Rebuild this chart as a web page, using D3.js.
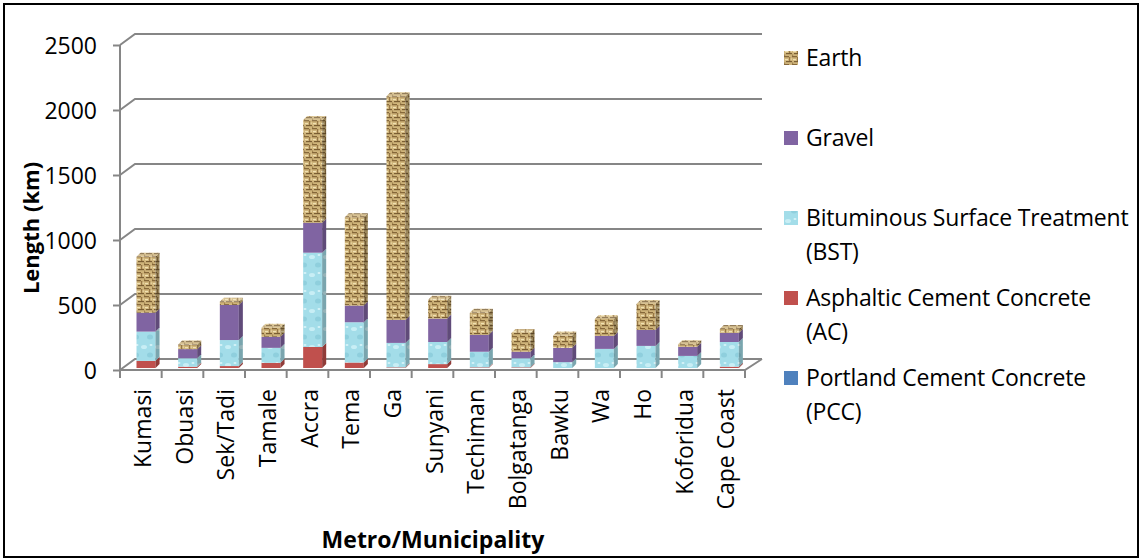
<!DOCTYPE html>
<html>
<head>
<meta charset="utf-8">
<script src="https://cdn.jsdelivr.net/npm/d3@7"></script>
<style>
  body { margin: 0; background: #fff; }
  svg text { font-family: "Open Sans", "Noto Sans", sans-serif; fill: #000; }
</style>
</head>
<body>
<div id="chart"></div>
<script>
// road lengths (km) per metro/municipality
const categories = ["Kumasi", "Obuasi", "Sek/Tadi", "Tamale", "Accra", "Tema", "Ga", "Sunyani",
    "Techiman", "Bolgatanga", "Bawku", "Wa", "Ho", "Koforidua", "Cape Coast"];
const pcc = [0, 0, 0, 0, 0, 0, 0, 0, 0, 0, 0, 0, 0, 0, 0];
const ac = [55, 10, 15, 40, 162, 42, 5, 30, 5, 5, 0, 0, 0, 0, 10];
const bst = [225, 65, 200, 115, 725, 310, 188, 170, 120, 70, 45, 147, 170, 93, 190];
const gravel = [145, 70, 270, 85, 230, 128, 177, 180, 130, 50, 110, 100, 123, 70, 70];
const earth = [430, 35, 25, 70, 790, 680, 1720, 145, 170, 145, 95, 130, 200, 20, 30];
const yTicks = [0, 500, 1000, 1500, 2000, 2500];

const seriesNames = ["PCC", "AC", "BST", "Gravel", "Earth"];
const legendItems = [
    {key: "Earth", lines: ["Earth"]},
    {key: "Gravel", lines: ["Gravel"]},
    {key: "BST", lines: ["Bituminous Surface Treatment", "(BST)"]},
    {key: "AC", lines: ["Asphaltic Cement Concrete", "(AC)"]},
    {key: "PCC", lines: ["Portland Cement Concrete", "(PCC)"]}
];

const W = 1141, H = 560;
const depth = {dx: 15, dy: -11};   // back wall offset
const bar = {off: 16.5, w: 19, dx: 4, dy: -4};

const table = categories.map((c, i) => ({
    name: c, PCC: pcc[i], AC: ac[i], BST: bst[i], Gravel: gravel[i], Earth: earth[i]
}));
const stacked = d3.stack().keys(seriesNames)(table);

const svg = d3.select("#chart").append("svg")
    .attr("width", W).attr("height", H);

// textures
const defs = svg.append("defs");
const earthPat = defs.append("pattern").attr("id", "earth")
    .attr("patternUnits", "userSpaceOnUse").attr("width", 8).attr("height", 8);
earthPat.append("rect").attr("width", 8).attr("height", 8).attr("fill", "#cfb47a");
earthPat.append("rect").attr("x", 0).attr("y", 0).attr("width", 5).attr("height", 1.3).attr("fill", "#86683a");
earthPat.append("rect").attr("x", 5).attr("y", 1).attr("width", 1.3).attr("height", 4).attr("fill", "#967645");
earthPat.append("rect").attr("x", 1).attr("y", 3).attr("width", 3).attr("height", 1.2).attr("fill", "#f0e0b2");
earthPat.append("rect").attr("x", 2).attr("y", 5).attr("width", 6).attr("height", 1.2).attr("fill", "#7a5e33");
earthPat.append("rect").attr("x", 0).attr("y", 6.5).attr("width", 1.2).attr("height", 1.5).attr("fill", "#a08350");
earthPat.append("rect").attr("x", 6.5).attr("y", 2.5).attr("width", 1.5).attr("height", 1.2).attr("fill", "#ecdaa8");

const bstPat = defs.append("pattern").attr("id", "bst")
    .attr("patternUnits", "userSpaceOnUse").attr("width", 14).attr("height", 18);
bstPat.append("rect").attr("width", 14).attr("height", 18).attr("fill", "#a3dde9");
bstPat.append("ellipse").attr("cx", 4).attr("cy", 5).attr("rx", 3).attr("ry", 2).attr("fill", "#c8eef5");
bstPat.append("ellipse").attr("cx", 10).attr("cy", 13).attr("rx", 3).attr("ry", 2.5).attr("fill", "#8fcfdd");
bstPat.append("ellipse").attr("cx", 11).attr("cy", 3).attr("rx", 1.5).attr("ry", 1).attr("fill", "#d6f3f8");

const fills = {Earth: "url(#earth)", Gravel: "#8064a2", BST: "url(#bst)", AC: "#c0504d", PCC: "#4f81bd"};

const x = d3.scaleBand().domain(categories).range([120, 745]).paddingInner(0).paddingOuter(0);
const y = d3.scaleLinear().domain([0, 2500]).range([370, 45]);
const yBar = d3.scaleLinear().domain([0, 2500]).range([368, 43]);

const gridColor = "#868686";

// gridlines on the wall
svg.append("g").selectAll("path").data(yTicks).join("path")
    .attr("d", t => `M120,${y(t)} L${120 + depth.dx},${y(t) + depth.dy} L762,${y(t) + depth.dy}`)
    .attr("fill", "none").attr("stroke", gridColor).attr("stroke-width", 2);

// floor front + right edge
svg.append("path")
    .attr("d", `M120,${y(0)} L745,${y(0)} L762,${y(0) + depth.dy}`)
    .attr("fill", "none").attr("stroke", gridColor).attr("stroke-width", 2);

// y axis
const yAxis = d3.axisLeft(y).tickValues(yTicks).tickFormat(d3.format("d")).tickSize(7).tickPadding(16);
const gy = svg.append("g").attr("transform", "translate(120,0)").call(yAxis);
gy.select(".domain").attr("d", `M0,${y(2500)}V${y(0) + 8}`).attr("stroke", gridColor).attr("stroke-width", 2);
gy.selectAll(".tick line").attr("stroke", gridColor).attr("stroke-width", 2);
gy.selectAll(".tick text").style("font-size", "23px").attr("dy", "0.35em");

// x axis (ticks at category boundaries)
const bounds = categories.map(c => x(c)).concat([x(categories[categories.length - 1]) + x.bandwidth()]);
svg.append("g").selectAll("line").data(bounds).join("line")
    .attr("x1", d => d).attr("x2", d => d)
    .attr("y1", y(0)).attr("y2", y(0) + 8)
    .attr("stroke", gridColor).attr("stroke-width", 2);

svg.append("g").selectAll("text").data(categories).join("text")
    .attr("transform", c => `translate(${x(c) + x.bandwidth() / 2 + 10},389) rotate(-90)`)
    .attr("text-anchor", "end")
    .style("font-size", "23px")
    .text(c => c);

// bars
const barsG = svg.append("g");
stacked.forEach(s => {
    const g = barsG.append("g");
    s.forEach((d, i) => {
        if (d[1] - d[0] <= 0) return;
        const x0 = x(categories[i]) + bar.off;
        const yTop = yBar(d[1]), yBot = yBar(d[0]);
        g.append("rect")
            .attr("x", x0).attr("y", yTop)
            .attr("width", bar.w).attr("height", yBot - yTop)
            .attr("fill", fills[s.key]);
        const side = `M${x0 + bar.w},${yTop} L${x0 + bar.w + bar.dx},${yTop + bar.dy} L${x0 + bar.w + bar.dx},${yBot + bar.dy} L${x0 + bar.w},${yBot} Z`;
        g.append("path").attr("d", side).attr("fill", fills[s.key]);
        g.append("path").attr("d", side).attr("fill", "#000").attr("opacity", 0.25);
    });
});
// top caps
categories.forEach((c, i) => {
    const top = stacked[stacked.length - 1][i];
    let key = "Earth";
    for (let k = stacked.length - 1; k >= 0; k--) {
        if (stacked[k][i][1] - stacked[k][i][0] > 0) { key = stacked[k].key; break; }
    }
    const x0 = x(c) + bar.off, yt = yBar(top[1]);
    const cap = `M${x0},${yt} L${x0 + bar.dx},${yt + bar.dy} L${x0 + bar.w + bar.dx},${yt + bar.dy} L${x0 + bar.w},${yt} Z`;
    barsG.append("path").attr("d", cap).attr("fill", fills[key]);
    barsG.append("path").attr("d", cap).attr("fill", "#fff").attr("opacity", 0.2);
});

// axis titles
svg.append("text")
    .attr("transform", "translate(39,228) rotate(-90)")
    .attr("text-anchor", "middle")
    .style("font-size", "22px").style("font-weight", "bold")
    .text("Length (km)");
svg.append("text")
    .attr("x", 433).attr("y", 548)
    .attr("text-anchor", "middle")
    .style("font-size", "23px").style("font-weight", "bold")
    .text("Metro/Municipality");

// legend
const legendY = [58, 138, 218, 298, 378];
const lg = svg.append("g");
legendItems.forEach((it, i) => {
    lg.append("rect")
        .attr("x", 784).attr("y", legendY[i] - 7)
        .attr("width", 14).attr("height", 14)
        .attr("fill", fills[it.key]);
    it.lines.forEach((line, j) => {
        lg.append("text")
            .attr("x", 806).attr("y", legendY[i] + j * 34)
            .attr("dy", "0.35em")
            .style("font-size", "23px")
            .style("letter-spacing", "-0.2px")
            .text(line);
    });
});

// outer border
svg.append("rect")
    .attr("x", 4).attr("y", 4).attr("width", 1134).attr("height", 553)
    .attr("fill", "none").attr("stroke", "#000").attr("stroke-width", 2);
</script>
</body>
</html>
